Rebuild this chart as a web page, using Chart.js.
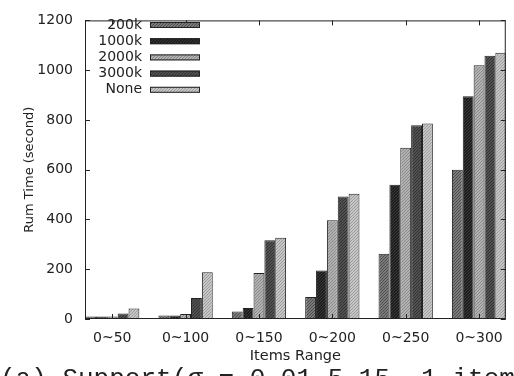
<!DOCTYPE html>
<html>
<head>
<meta charset="utf-8">
<script src="https://cdn.jsdelivr.net/npm/chart.js@4.4.1/dist/chart.umd.min.js"></script>
<style>
  body { margin: 0; background: #fff; }
  #wrap { position: relative; width: 514px; height: 376px; overflow: hidden; }
  #caption { position: absolute; left: 0; top: 366px; font: 26px "Liberation Mono", monospace; line-height: 26px; color: #222; white-space: nowrap; }
</style>
</head>
<body>
<div id="wrap">
  <canvas id="myChart" width="514" height="376"></canvas>
  <div id="caption">(a) Support(σ = 0.01~5.15, 1 items)</div>
</div>
<script>
// data
const categories = ['0~50', '0~100', '0~150', '0~200', '0~250', '0~300'];
const seriesNames = ['200k', '1000k', '2000k', '3000k', 'None'];
const run200k  = [10, 14, 30, 88, 262, 600];
const run1000k = [10, 14, 44, 195, 540, 895];
const run2000k = [10, 20, 185, 397, 688, 1020];
const run3000k = [22, 84, 316, 492, 779, 1058];
const runNone  = [42, 188, 327, 503, 786, 1070];
const yTicks = [0, 200, 400, 600, 800, 1000, 1200];

const ink = '#222';
const font = '"DejaVu Sans", sans-serif';

// grey fill with a light dot texture, like the printed bars
function dotted(base, dot) {
  const c = document.createElement('canvas');
  c.width = 3; c.height = 3;
  const g = c.getContext('2d');
  g.fillStyle = base; g.fillRect(0, 0, 3, 3);
  g.fillStyle = dot; g.fillRect(0, 0, 1, 1); g.fillRect(2, 1, 1, 1); g.fillRect(1, 2, 1, 1);
  return g.createPattern(c, 'repeat');
}
const fills = [
  dotted('#7a7a7a', '#4e4e4e'),
  dotted('#1e1e1e', '#3a3a3a'),
  dotted('#b2b2b2', '#8a8a8a'),
  dotted('#505050', '#333333'),
  dotted('#c6c6c6', '#9c9c9c')
];

const series = [run200k, run1000k, run2000k, run3000k, runNone];

// box frame, inward tick marks and the legend inside the plot
const frame = {
  id: 'frame',
  afterDatasetsDraw(chart) {
    const { ctx, chartArea: a, scales: { x, y } } = chart;
    ctx.save();
    ctx.strokeStyle = ink;
    ctx.lineWidth = 1;
    ctx.strokeRect(a.left + 0.5, a.top + 0.5, a.right - a.left - 1, a.bottom - a.top - 1);
    ctx.beginPath();
    y.ticks.forEach(t => {
      const py = Math.round(y.getPixelForValue(t.value)) + 0.5;
      ctx.moveTo(a.left, py); ctx.lineTo(a.left + 5, py);
      ctx.moveTo(a.right, py); ctx.lineTo(a.right - 5, py);
    });
    x.ticks.forEach(t => {
      const px = Math.round(x.getPixelForValue(t.value)) + 0.5;
      ctx.moveTo(px, a.top); ctx.lineTo(px, a.top + 5);
      ctx.moveTo(px, a.bottom); ctx.lineTo(px, a.bottom - 5);
    });
    ctx.stroke();

    ctx.font = '14px ' + font;
    ctx.textAlign = 'right';
    ctx.textBaseline = 'middle';
    chart.data.datasets.forEach((ds, i) => {
      const yy = 25 + i * 16.2;
      ctx.fillStyle = ink;
      ctx.fillText(ds.label, 142, yy);
      ctx.fillStyle = ds.backgroundColor;
      ctx.fillRect(150, yy - 3, 50, 6);
      ctx.strokeRect(150.5, yy - 2.5, 49, 5);
    });
    ctx.restore();
  }
};

const ctx = document.getElementById('myChart').getContext('2d');
const myChart = new Chart(ctx, {
  type: 'bar',
  data: {
    datasets: seriesNames.map((name, i) => ({
      label: name,
      data: series[i].map((v, j) => ({ x: j, y: v })),
      backgroundColor: fills[i],
      borderColor: ink,
      borderWidth: 1,
      categoryPercentage: 0.74,
      barPercentage: 1.0
    }))
  },
  options: {
    responsive: false,
    animation: false,
    layout: { padding: { top: 12, right: 4, bottom: 11, left: 0 } },
    plugins: {
      legend: { display: false },
      tooltip: { enabled: false }
    },
    scales: {
      x: {
        type: 'linear',
        offset: false,
        min: -0.371,
        max: 5.364,
        afterBuildTicks: s => { s.ticks = categories.map((_, i) => ({ value: i })); },
        afterFit: s => { s.height = 46; },
        grid: { display: false, drawTicks: false, offset: false },
        border: { display: false },
        ticks: {
          color: ink,
          font: { family: font, size: 14 },
          padding: 11,
          maxRotation: 0,
          callback: v => categories[v]
        },
        title: {
          display: true,
          text: 'Items Range',
          color: ink,
          font: { family: font, size: 14.5 },
          padding: { top: 0, bottom: 0 }
        }
      },
      y: {
        min: 0,
        max: 1200,
        afterBuildTicks: s => { s.ticks = yTicks.map(v => ({ value: v })); },
        afterFit: s => { s.width = 85; },
        grid: { display: false, drawTicks: false },
        border: { display: false },
        ticks: {
          color: ink,
          font: { family: font, size: 14 },
          padding: 12,
          callback: v => String(v)
        },
        title: {
          display: true,
          text: 'Rum Time (second)',
          color: ink,
          font: { family: font, size: 13 },
          padding: { top: 22, bottom: 0 }
        }
      }
    }
  },
  plugins: [frame]
});
</script>
</body>
</html>
